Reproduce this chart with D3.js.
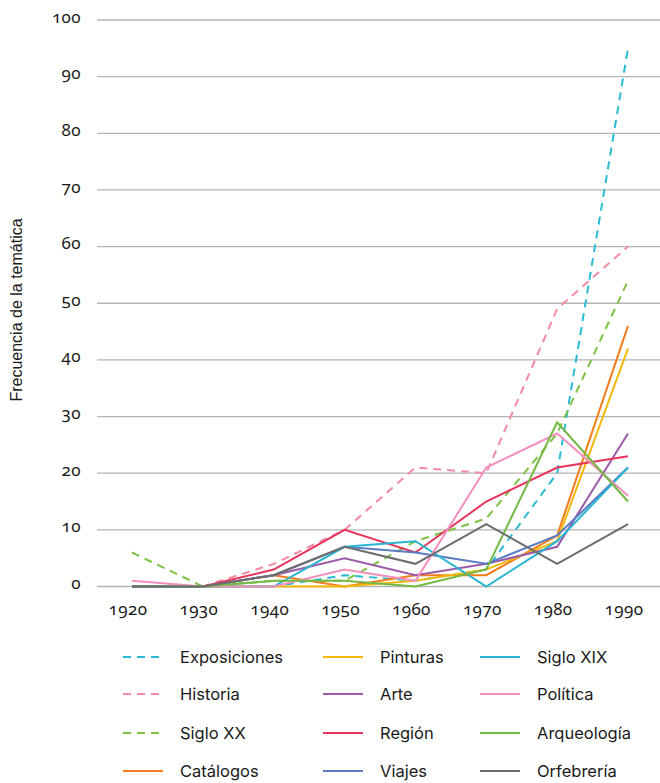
<!DOCTYPE html>
<html>
<head>
<meta charset="utf-8">
<script src="https://cdn.jsdelivr.net/npm/d3@7"></script>
<style>
  body { margin: 0; background: #fff; }
  .tick-label { font-family: "Noto Sans", sans-serif; font-size: 17px; letter-spacing: 0.4px; fill: #1a1a1a; font-feature-settings: "onum"; }
  .legend-label { font-family: Inter, "Noto Sans", sans-serif; font-size: 16.5px; fill: #1a1a1a; }
  .axis-title { font-family: "Liberation Sans", Arial, sans-serif; font-size: 16px; fill: #1a1a1a; }
</style>
</head>
<body>
<div id="chart"></div>
<script>
const width = 660;
const height = 783;

// data
const years = [1920, 1930, 1940, 1950, 1960, 1970, 1980, 1990];
const yTicks = [0, 10, 20, 30, 40, 50, 60, 70, 80, 90, 100];

const exposiciones = [0, 0, 0, 2, 1, 3, 20, 95];
const historia     = [0, 0, 4, 10, 21, 20, 49, 60];
const sigloXX      = [6, 0, 1, 1, 8, 12, 27, 54];
const catalogos    = [0, 0, 2, 0, 2, 2, 9, 46];
const pinturas     = [0, 0, 0, 0, 1, 3, 8, 42];
const arte         = [0, 0, 2, 5, 2, 4, 7, 27];
const region       = [0, 0, 3, 10, 6, 15, 21, 23];
const viajes       = [0, 0, 2, 7, 6, 4, 9, 21];
const sigloXIX     = [0, 0, 0, 7, 8, 0, 8, 21];
const politica     = [1, 0, 0, 3, 1, 21, 27, 16];
const arqueologia  = [0, 0, 1, 1, 0, 3, 29, 15];
const orfebreria   = [0, 0, 2, 7, 4, 11, 4, 11];

const series = [
    { name: "Exposiciones", values: exposiciones, color: "#2bbad3", dashed: true },
    { name: "Historia",     values: historia,     color: "#f28ba3", dashed: true },
    { name: "Siglo XX",     values: sigloXX,      color: "#7dc143", dashed: true },
    { name: "Catálogos",    values: catalogos,    color: "#f47c1c", dashed: false },
    { name: "Pinturas",     values: pinturas,     color: "#f2b90c", dashed: false },
    { name: "Arte",         values: arte,         color: "#9c5ba8", dashed: false },
    { name: "Región",       values: region,       color: "#e7345b", dashed: false },
    { name: "Viajes",       values: viajes,       color: "#5b7bc2", dashed: false },
    { name: "Siglo XIX",    values: sigloXIX,     color: "#29b5d1", dashed: false },
    { name: "Política",     values: politica,     color: "#f38fbf", dashed: false },
    { name: "Arqueología",  values: arqueologia,  color: "#74b844", dashed: false },
    { name: "Orfebrería",   values: orfebreria,   color: "#6d6d6d", dashed: false }
];

const svg = d3.select("#chart")
    .append("svg")
        .attr("width", width)
        .attr("height", height);

const x = d3.scaleLinear().domain([1920, 1990]).range([132, 628]);
const y = d3.scaleLinear().domain([0, 100]).range([586.5, 20]);

// grid
svg.append("g")
    .selectAll("line")
    .data(yTicks)
    .enter().append("line")
        .attr("x1", 97)
        .attr("x2", width)
        .attr("y1", d => y(d))
        .attr("y2", d => y(d))
        .attr("stroke", "#b4b4b4")
        .attr("stroke-width", 1.3);

svg.append("g")
    .selectAll("text")
    .data(yTicks)
    .enter().append("text")
        .attr("class", "tick-label")
        .attr("x", 81)
        .attr("y", d => y(d))
        .attr("dy", ".15em")
        .attr("text-anchor", "end")
        .text(d => d);

svg.append("g")
    .selectAll("text")
    .data(years)
    .enter().append("text")
        .attr("class", "tick-label")
        .attr("x", d => x(d) - 4)
        .attr("y", 615)
        .attr("text-anchor", "middle")
        .text(d => d);

svg.append("text")
    .attr("class", "axis-title")
    .attr("transform", "translate(22,310) rotate(-90)")
    .attr("text-anchor", "middle")
    .text("Frecuencia de la temática");

const line = d3.line()
    .x((d, i) => x(years[i]))
    .y(d => y(d));

svg.append("g")
    .attr("fill", "none")
    .selectAll("path")
    .data(series)
    .enter().append("path")
        .attr("d", d => line(d.values))
        .attr("stroke", d => d.color)
        .attr("stroke-width", 2)
        .attr("stroke-linejoin", "miter")
        .attr("stroke-dasharray", d => d.dashed ? "8,6" : null);

// legend: 3 columns, 4 rows, filled column by column
const colX = [123, 323, 480];
const rowY = [657, 694, 733, 771];

const legend = svg.append("g")
    .selectAll("g")
    .data(series)
    .enter().append("g")
        .attr("transform", (d, i) => "translate(" + colX[Math.floor(i / 4)] + "," + rowY[i % 4] + ")");

legend.append("line")
    .attr("x1", 0)
    .attr("x2", 40)
    .attr("stroke", d => d.color)
    .attr("stroke-width", 2)
    .attr("stroke-dasharray", d => d.dashed ? "8,6" : null);

legend.append("text")
    .attr("class", "legend-label")
    .attr("x", 57)
    .attr("dy", ".35em")
    .text(d => d.name);
</script>
</body>
</html>
